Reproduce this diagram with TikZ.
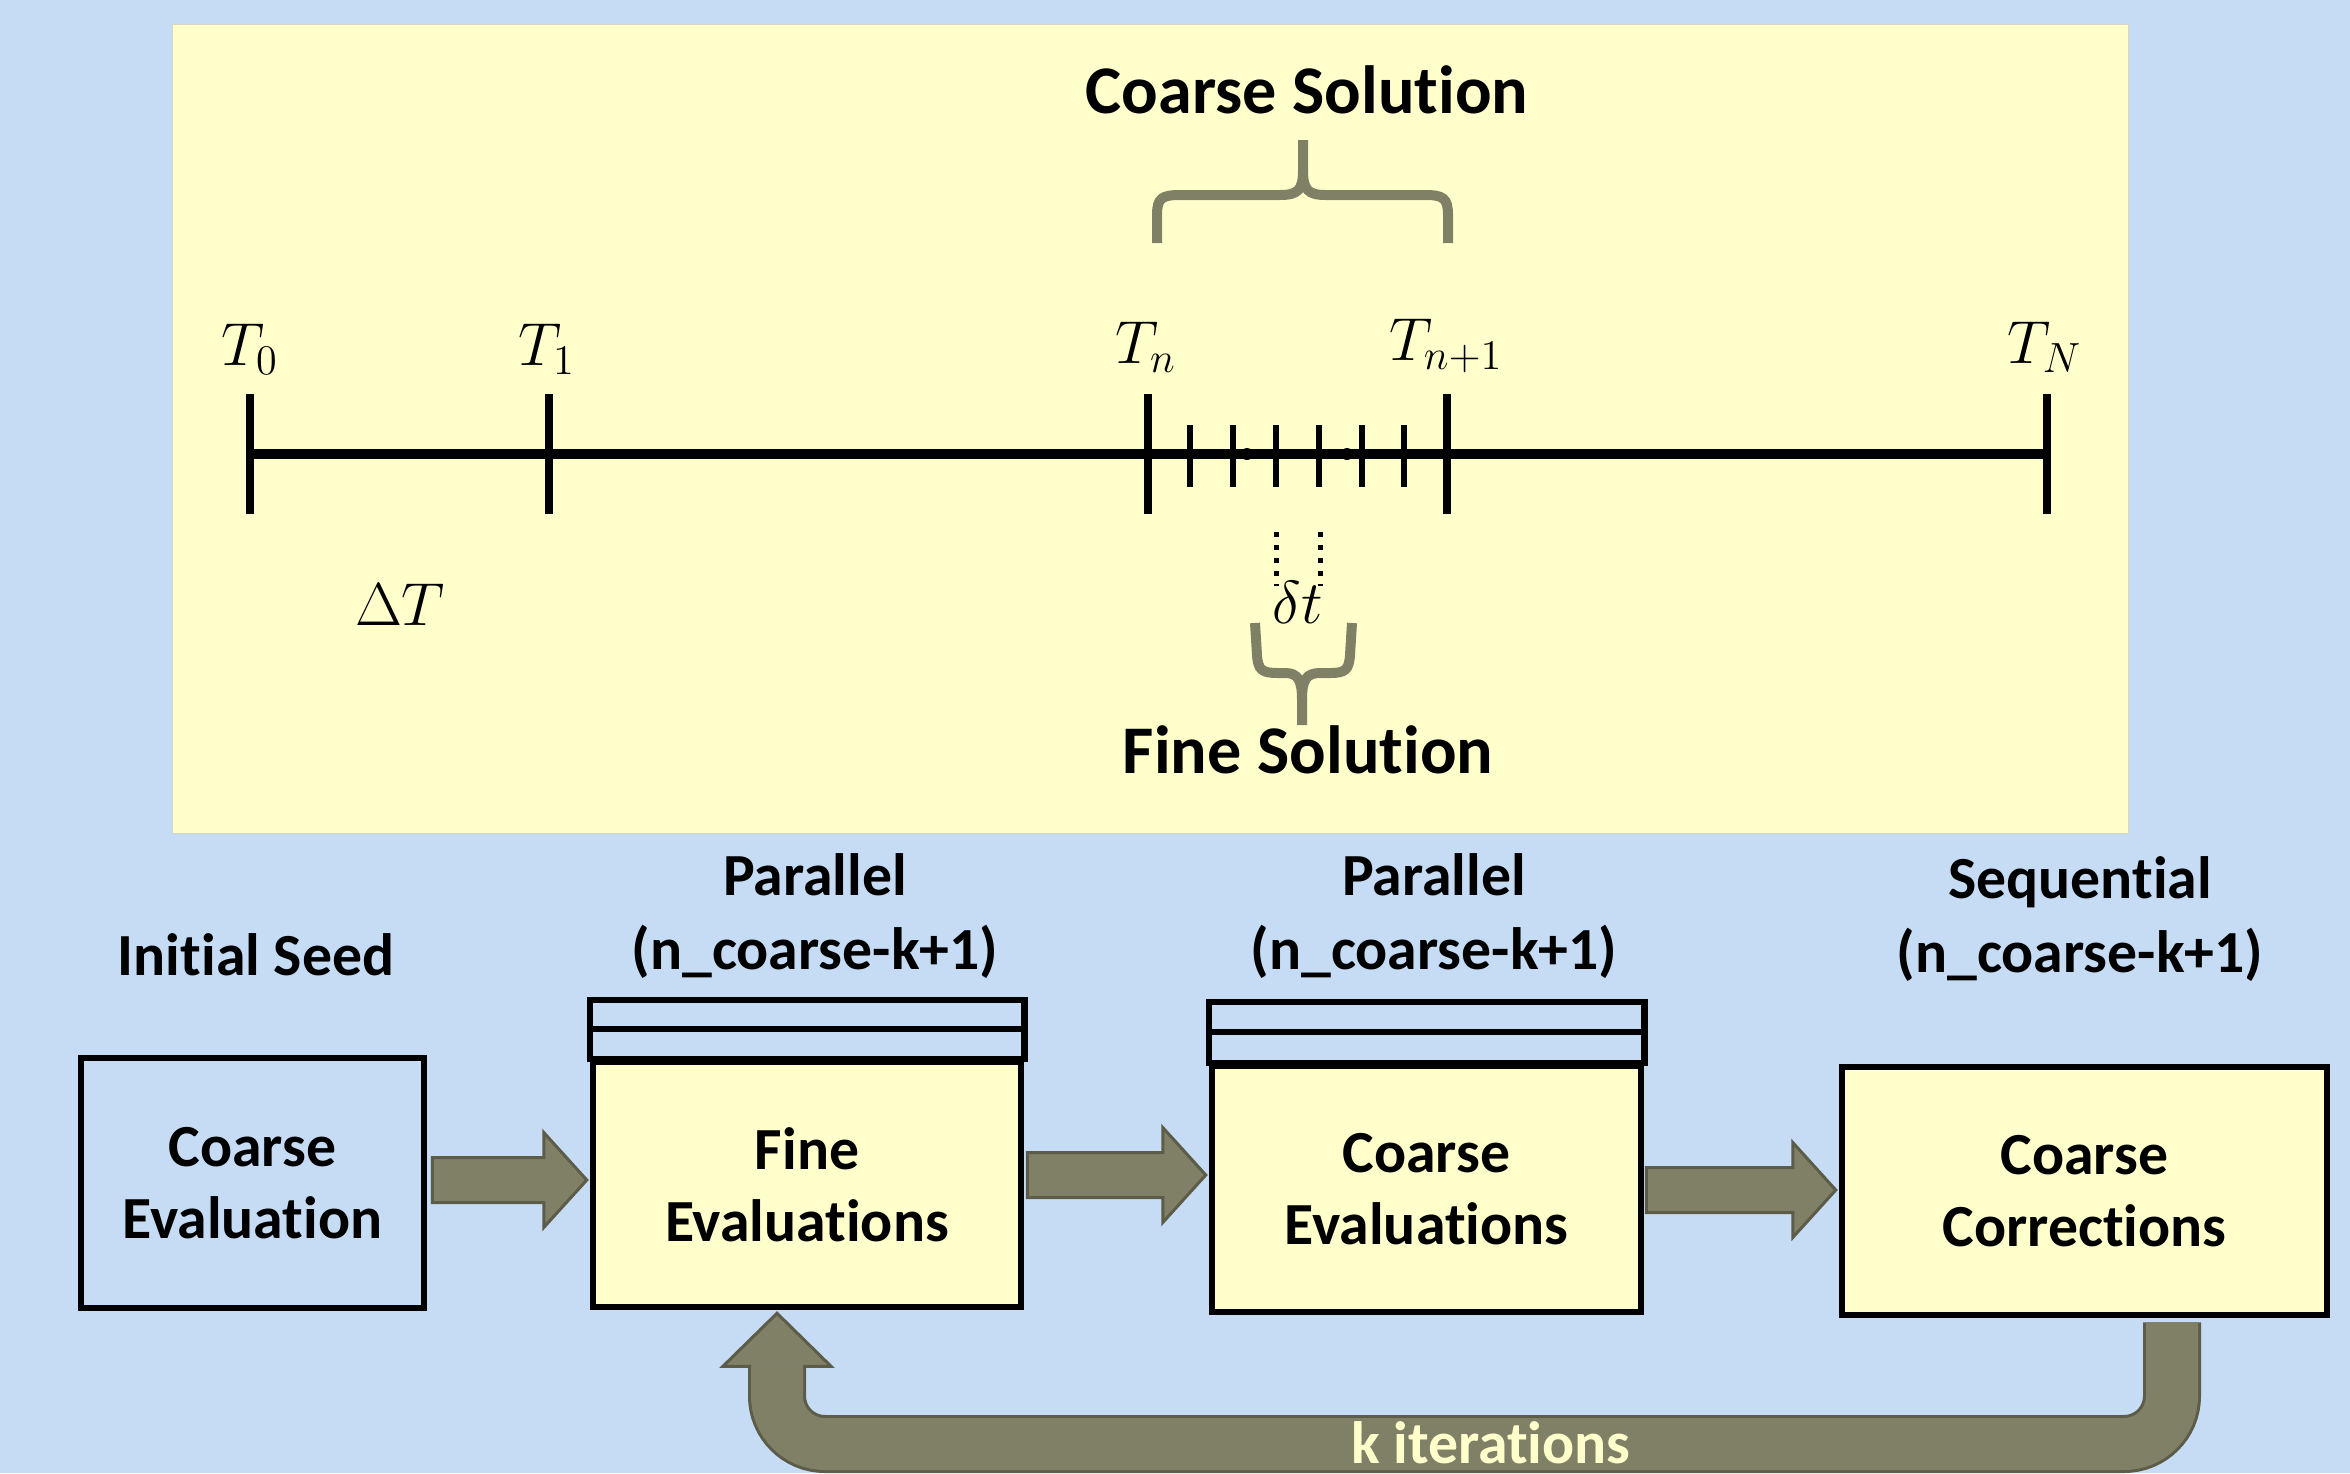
\documentclass[tikz,border=0pt]{standalone}
\usepackage[no-math]{fontspec}
\newfontfamily\carl[Ligatures={NoCommon,NoContextual},Contextuals=NoAlternate]{Carlito}
\usetikzlibrary{calc}
\definecolor{bgblue}{RGB}{198,220,245}
\definecolor{paneyellow}{RGB}{255,255,204}
\definecolor{olivefill}{RGB}{128,128,102}
\definecolor{olivedark}{RGB}{92,92,72}
\newcommand\blockarr[2]{\filldraw[barrow] ($(#1)+(0,-22.5)$) -- ($(#2)+(-43,-22.5)$) -- ($(#2)+(-43,-47.5)$) -- (#2) -- ($(#2)+(-43,47.5)$) -- ($(#2)+(-43,22.5)$) -- ($(#1)+(0,22.5)$) -- cycle;}
\begin{document}
\begin{tikzpicture}[x=0.1mm,y=-0.1mm,
  ctick/.style={line width=0.8mm},
  ftick/.style={line width=0.62mm},
  dotline/.style={line width=0.5mm, dash pattern=on 0.45mm off 0.85mm},
  mlab/.style={font=\fontsize{17.5}{20}\selectfont, anchor=base, inner sep=0},
  title/.style={font=\carl\bfseries\fontsize{19.4}{23}\selectfont, inner sep=0},
  lab/.style={font=\carl\bfseries\fontsize{17}{20.8}\selectfont, align=center, inner sep=0},
  box/.style={draw, line width=0.65mm, align=center, inner sep=0,
    font=\carl\bfseries\fontsize{17}{20.5}\selectfont},
  stack/.style={draw, fill=bgblue, line width=0.65mm},
  brace/.style={draw=olivefill, line width=1mm},
  barrow/.style={fill=olivefill, draw=olivedark, line width=0.3mm},
  loopout/.style={draw=olivedark, line width=5.8mm, rounded corners=4.8mm},
  loopin/.style={draw=olivefill, line width=5.2mm, rounded corners=4.8mm}]
\useasboundingbox (0,0) rectangle (2350,1473);
\fill[bgblue] (0,0) rectangle (2350,1473);
% top panel
\filldraw[fill=paneyellow, draw={rgb,255:red,215;green,215;blue,195}, line width=0.1mm] (172,24) rectangle (2128,833);

% timeline
\coordinate (t0) at (250,454);
\coordinate (t1) at (549,454);
\coordinate (tn) at (1148,454);
\coordinate (tn1) at (1447,454);
\coordinate (tN) at (2047,454);
\draw[line width=1mm] (t0) -- (tN);
\foreach \c in {t0,t1,tn,tn1,tN}
  \draw[ctick] ($(\c)+(0,-60)$) -- ($(\c)+(0,60)$);
\foreach \x in {1190,1233,1276,1319,1362,1404}
  \draw[ftick] (\x,425) -- (\x,487);
\fill (1247,454) circle (0.6mm);
\fill (1347,454) circle (0.6mm);
\draw[dotline] (1276,532) -- (1276,586);
\draw[dotline] (1320,532) -- (1320,586);

\node[mlab] (lT0) at (250,365) {$T_0$};
\node[mlab] (lT1) at (547,365) {$T_1$};
\node[mlab] (lTn) at (1146,363) {$T_n$};
\node[mlab] (lTn1) at (1446,360) {$T_{n+1}$};
\node[mlab] (lTN) at (2045,363) {$T_N$};
\node[mlab] (ldT) at (400,625) {$\Delta T$};
\node[mlab] (ldt) at (1298,623) {$\delta t$};

% braces
\draw[brace] (1157,243) -- (1157,215) .. controls (1157,198) and (1162,195) .. (1180,195) -- (1280,195) .. controls (1298,195) and (1303,190) .. (1303,170) -- (1303,140);
\draw[brace] (1448,243) -- (1448,215) .. controls (1448,198) and (1443,195) .. (1425,195) -- (1326,195) .. controls (1308,195) and (1303,190) .. (1303,170);
\draw[brace] (1255,623) -- (1257,655) .. controls (1258,670) and (1262,673) .. (1278,673) -- (1285,673) .. controls (1298,673) and (1302,680) .. (1302,700) -- (1302,725);
\draw[brace] (1352,623) -- (1350,655) .. controls (1349,670) and (1345,673) .. (1330,673) -- (1320,673) .. controls (1306,673) and (1302,680) .. (1302,700);

\node[title] (cs) at (1307,90) {Coarse Solution};
\node[title] (fs) at (1308,750) {Fine Solution};

% bottom boxes
\node[box, fill=bgblue, minimum width=34.3mm, minimum height=25mm] (b1) at (252.5,1183) {Coarse\\Evaluation};
\node[box, fill=paneyellow, minimum width=42.8mm, minimum height=24.5mm] (b2) at (807,1184.5) {Fine\\Evaluations};
\node[box, fill=paneyellow, minimum width=42.9mm, minimum height=24.6mm] (b3) at (1426.5,1189) {Coarse\\Evaluations};
\node[box, fill=paneyellow, minimum width=48.5mm, minimum height=24.8mm] (b4) at (2084.5,1191) {Coarse\\Corrections};

\filldraw[stack] ($(b2.north west)+(0,-59)$) rectangle (b2.north east);
\draw[line width=0.65mm] ($(b2.north west)+(0,-30)$) -- ($(b2.north east)+(0,-30)$);
\filldraw[stack] ($(b3.north west)+(0,-61)$) rectangle (b3.north east);
\draw[line width=0.65mm] ($(b3.north west)+(0,-31)$) -- ($(b3.north east)+(0,-31)$);

\node[lab] (l1) at (256,955) {Initial Seed};
\node[lab] (l2) at (815,916) {Parallel\\(n\_coarse-k+1)};
\node[lab] (l3) at (1434,916) {Parallel\\(n\_coarse-k+1)};
\node[lab] (l4) at (2080,919) {Sequential\\(n\_coarse-k+1)};

% block arrows
\coordinate (a1s) at ($(b1.east)+(5,-3)$);
\coordinate (a1e) at ($(b2.west |- a1s)+(-3,0)$);
\blockarr{a1s}{a1e}
\coordinate (a2s) at ($(b2.east)+(3,-9.5)$);
\coordinate (a2e) at ($(b3.west |- a2s)+(-3,0)$);
\blockarr{a2s}{a2e}
\coordinate (a3s) at ($(b3.east)+(2,1)$);
\coordinate (a3e) at ($(b4.west |- a3s)+(-3,0)$);
\blockarr{a3s}{a3e}

% loop arrow
\coordinate (lr) at ($(b4.south)+(87.5,4)$);
\coordinate (lbot) at (1500,1444);
\coordinate (ll) at ($(b2.south)+(-30,56)$);
\coordinate (ltip) at ($(b2.south)+(-30,3)$);
\draw[loopout] (lr) -- (lr |- lbot) -- (ll |- lbot) -- (ll);
\draw[loopin] (lr) -- (lr |- lbot) -- (ll |- lbot) -- (ll);
\fill[olivefill] ($(ll)+(-54,0)$) -- (ltip) -- ($(ll)+(54,0)$) -- cycle;
\draw[olivedark, line width=0.3mm, line join=miter] ($(ll)+(26,0)$) -- ($(ll)+(54,0)$) -- (ltip) -- ($(ll)+(-54,0)$) -- ($(ll)+(-26,0)$);
\node[font=\carl\bfseries\fontsize{17}{20}\selectfont, text=paneyellow, anchor=base, inner sep=0] (kit) at (1491,1463) {k iterations};
\end{tikzpicture}
\end{document}
